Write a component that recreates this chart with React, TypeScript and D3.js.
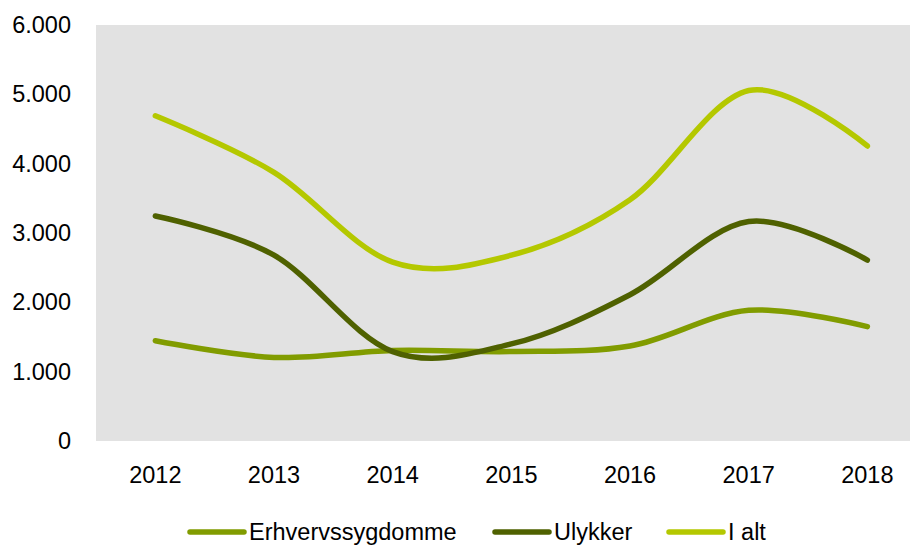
import React from "react";
import * as d3 from "d3";

const years = ["2012", "2013", "2014", "2015", "2016", "2017", "2018"];
const erhverv = [1445, 1205, 1305, 1290, 1370, 1885, 1650];
const ulykker = [3245, 2680, 1290, 1400, 2110, 3165, 2610];
const ialt = [4690, 3875, 2580, 2680, 3480, 5055, 4255];
const yTicks = [0, 1000, 2000, 3000, 4000, 5000, 6000];

const seriesNames = ["Erhvervssygdomme", "Ulykker", "I alt"];
const seriesColors = ["#819c00", "#4f6100", "#b4c800"];

const W = 910;
const H = 545;
const plot = { left: 96, top: 25, right: 926.7, bottom: 441 };

export default function App() {
  const x = d3.scaleBand<string>().domain(years).range([plot.left, plot.right]);
  const y = d3.scaleLinear().domain([0, 6000]).range([plot.bottom, plot.top]);
  const line = d3
    .line<number>()
    .x((_, i) => (x(years[i]) as number) + x.bandwidth() / 2)
    .y((d) => y(d))
    .curve(d3.curveCatmullRom.alpha(0));
  const fmt = (v: number) => d3.format(",")(v).replace(/,/g, ".");
  const series = [erhverv, ulykker, ialt];
  const legendX = [190, 495, 669];
  const font = "'Liberation Sans', Arial, sans-serif";

  return (
    <svg
      width={W}
      height={H}
      style={{ position: "absolute", left: 0, top: 0, background: "#fff" }}
      fontFamily={font}
    >
      <rect
        x={plot.left}
        y={plot.top}
        width={W - plot.left}
        height={plot.bottom - plot.top}
        fill="#e2e2e2"
      />
      {yTicks.map((t) => (
        <text
          key={t}
          x={71}
          y={y(t)}
          textAnchor="end"
          dominantBaseline="central"
          fontSize={23.5}
          fill="#000"
        >
          {fmt(t)}
        </text>
      ))}
      {years.map((yr) => (
        <text
          key={yr}
          x={(x(yr) as number) + x.bandwidth() / 2}
          y={483}
          textAnchor="middle"
          fontSize={23.5}
          fill="#000"
        >
          {yr}
        </text>
      ))}
      {series.map((s, i) => (
        <path
          key={i}
          d={line(s) || ""}
          fill="none"
          stroke={seriesColors[i]}
          strokeWidth={5.5}
          strokeLinecap="round"
          strokeLinejoin="round"
        />
      ))}
      {seriesNames.map((n, i) => (
        <g key={n}>
          <line
            x1={legendX[i]}
            x2={legendX[i] + 54}
            y1={532}
            y2={532}
            stroke={seriesColors[i]}
            strokeWidth={5.5}
            strokeLinecap="round"
          />
          <text x={legendX[i] + 59} y={539.5} fontSize={23.5} fill="#000">
            {n}
          </text>
        </g>
      ))}
    </svg>
  );
}
